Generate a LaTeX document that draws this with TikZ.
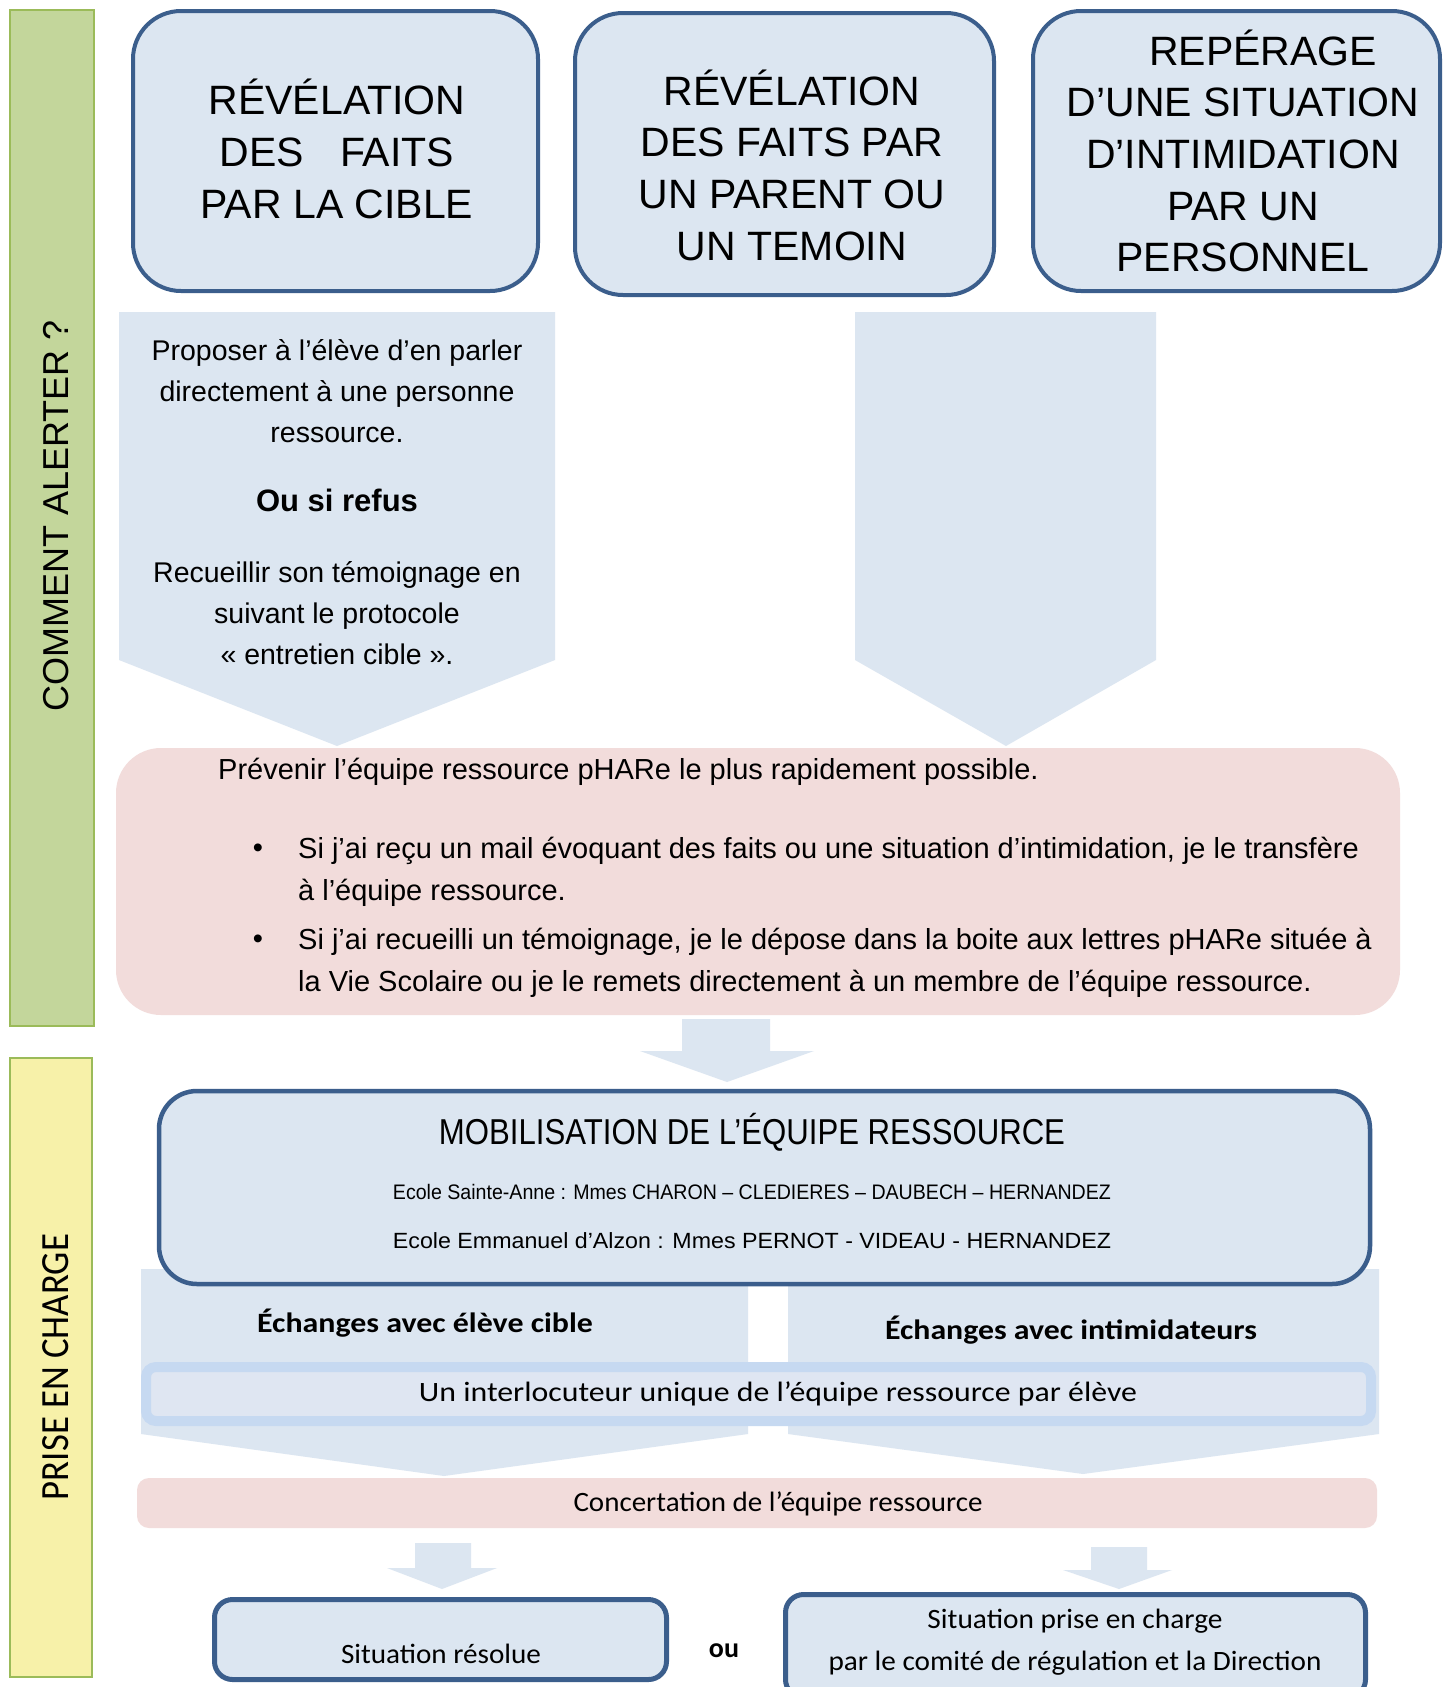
\documentclass[tikz,border=0pt]{standalone}
\usepackage{fontspec}
\usepackage{graphicx}
\setmainfont{Liberation Sans}
\newfontfamily\arial{Liberation Sans}
\newfontfamily\calib{Carlito}
\newcommand\fitw[2]{\resizebox{#1}{\height}{#2}}
\definecolor{boxfill}{HTML}{DCE6F1}
\definecolor{boxline}{HTML}{3B5E8C}
\definecolor{pinkfill}{HTML}{F2DCDB}
\definecolor{greenfill}{HTML}{C3D69B}
\definecolor{greenline}{HTML}{9BBB59}
\definecolor{yellowfill}{HTML}{F7F1A9}
\definecolor{lightline}{HTML}{C6D9F1}
\definecolor{innerfill}{HTML}{DFE6F2}
\begin{document}
\begin{tikzpicture}[x=1pt,y=-1pt,
  topbox/.style={draw=boxline, line width=4pt, fill=boxfill, rounded corners=48pt, inner sep=0pt},
  midbox/.style={draw=boxline, line width=4.5pt, fill=boxfill, rounded corners=38pt, inner sep=0pt},
  botbox/.style={draw=boxline, line width=5pt, fill=boxfill, rounded corners=18pt, inner sep=0pt},
  toptxt/.style={font=\arial\fontsize{41}{51.7}\selectfont, align=center, inner sep=0pt},
  arrtxt/.style={font=\arial\fontsize{28.5}{41}\selectfont, align=center, inner sep=0pt},
  alerttxt/.style={font=\arial\fontsize{29}{42}\selectfont, align=left, inner sep=0pt},
  caltxt/.style={font=\calib\fontsize{28}{34}\selectfont, inner sep=0pt},
  calbold/.style={font=\calib\bfseries\fontsize{28}{34}\selectfont, inner sep=0pt},
  bgarrow/.style={fill=boxfill}
]
\useasboundingbox (0,0) rectangle (1452,1687);
\fill[white] (0,0) rectangle (1452,1687);

% side bars
\node[draw=greenline, line width=2pt, fill=greenfill, minimum width=84pt, minimum height=1016pt, inner sep=0pt] (greenbar) at (52,518) {};
\node[font=\arial\fontsize{36}{40}\selectfont, rotate=90, inner sep=0pt] (alertlbl) at (56,516) {COMMENT ALERTER ?};
\node[draw=greenline, line width=2pt, fill=yellowfill, minimum width=82pt, minimum height=619pt, inner sep=0pt] (yellowbar) at (51,1367.5) {};
\node[font=\calib\fontsize{40}{44}\selectfont, rotate=90, inner sep=0pt] (priselbl) at (56,1367) {\fitw{266pt}{PRISE EN CHARGE}};

% top boxes
\node[topbox, minimum width=405pt, minimum height=280pt] (b1) at (335.5,151) {};
\node[topbox, minimum width=419pt, minimum height=282pt] (b2) at (784.5,154) {};
\node[topbox, minimum width=407pt, minimum height=280pt] (b3) at (1236.5,151) {};
\node[toptxt] (t1) at (337,149) {RÉVÉLATION\\DES\hspace{0.6em} FAITS\\PAR LA CIBLE};
\node[toptxt] (t2) at (792,165) {RÉVÉLATION\\DES FAITS PAR\\UN PARENT OU\\UN TEMOIN};
\node[toptxt] (t3) at (1243,151) {\hspace*{40pt}REPÉRAGE\\D’UNE SITUATION\\D’INTIMIDATION\\PAR UN\\PERSONNEL};

% big arrows
\fill[bgarrow] (119,312) -- (555,312) -- (555,660) -- (337,746) -- (119,660) -- cycle;
\fill[bgarrow] (855,312) -- (1156,312) -- (1156,660) -- (1006,746) -- (855,660) -- cycle;
\node[arrtxt] (p1) at (337,391) {Proposer à l’élève d’en parler\\directement à une personne\\ressource.};
\node[arrtxt, font=\arial\bfseries\fontsize{31}{41}\selectfont] (p2) at (337,500) {Ou si refus};
\node[arrtxt] (p3) at (337,613) {Recueillir son témoignage en\\suivant le protocole\\«~entretien cible~».};

% alert box
\node[fill=pinkfill, rounded corners=45pt, minimum width=1284pt, minimum height=267pt, inner sep=0pt] (alert) at (758,881.5) {};
\node[alerttxt, anchor=west] (prev) at (218,772) {Prévenir l’équipe ressource pHARe le plus rapidement possible.};
\node[alerttxt] (bul1) at (258,851) {•};
\node[alerttxt] (bul2) at (258,942) {•};
\node[alerttxt, anchor=west] (item1) at (298,872) {Si j’ai reçu un mail évoquant des faits ou une situation d’intimidation, je le transfère\\à l’équipe ressource.};
\node[alerttxt, anchor=west] (item2) at (298,963) {Si j’ai recueilli un témoignage, je le dépose dans la boite aux lettres pHARe située à\\la Vie Scolaire ou je le remets directement à un membre de l’équipe ressource.};

% arrow to mobilisation
\fill[bgarrow] (682,1019) -- (770,1019) -- (770,1051) -- (814,1051) -- (727,1082) -- (640,1051) -- (682,1051) -- cycle;

% background arrows for exchanges
\fill[bgarrow] (141,1269) -- (748,1269) -- (748,1434) -- (444,1476) -- (141,1434) -- cycle;
\fill[bgarrow] (788,1269) -- (1379,1269) -- (1379,1434) -- (1083,1474) -- (788,1434) -- cycle;

% mobilisation box
\node[midbox, minimum width=1211pt, minimum height=193pt] (mob) at (764.5,1187.5) {};
\node[font=\arial\fontsize{36}{40}\selectfont, inner sep=0pt] (mobt) at (752,1132) {\fitw{626pt}{MOBILISATION DE L’ÉQUIPE RESSOURCE}};
\node[font=\arial\fontsize{21}{24}\selectfont, inner sep=0pt] (ecole1) at (752,1192) {\fitw{718pt}{Ecole Sainte-Anne : Mmes CHARON – CLEDIERES – DAUBECH – HERNANDEZ}};
\node[font=\arial\fontsize{22}{24}\selectfont, inner sep=0pt] (ecole2) at (752,1241) {\fitw{718pt}{Ecole Emmanuel d’Alzon : Mmes PERNOT - VIDEAU - HERNANDEZ}};

\node[calbold] (ech1) at (425,1323) {\fitw{336pt}{Échanges avec élève cible}};
\node[calbold] (ech2) at (1071,1330) {\fitw{372pt}{Échanges avec intimidateurs}};

% unique interlocutor bar
\node[draw=lightline, line width=10pt, fill=innerfill, rounded corners=10pt, minimum width=1225pt, minimum height=54pt, inner sep=0pt] (uniq) at (758.5,1394) {};
\node[caltxt] (uniqt) at (778,1394) {\fitw{718pt}{Un interlocuteur unique de l’équipe ressource par élève}};

% concertation
\node[fill=pinkfill, rounded corners=12pt, minimum width=1240pt, minimum height=50pt, inner sep=0pt] (conc) at (757,1503) {};
\node[caltxt] (conct) at (778,1504) {\fitw{409pt}{Concertation de l’équipe ressource}};

% small arrows
\fill[bgarrow] (415,1543) -- (471,1543) -- (471,1568) -- (497,1568) -- (442,1589) -- (387,1568) -- (415,1568) -- cycle;
\fill[bgarrow] (1091,1547) -- (1147,1547) -- (1147,1570) -- (1172,1570) -- (1119,1589) -- (1063,1570) -- (1091,1570) -- cycle;

% outcome boxes
\node[botbox, minimum width=452pt, minimum height=80pt] (res) at (440.5,1639.5) {};
\node[caltxt] (rest) at (441,1654) {\fitw{200pt}{Situation résolue}};
\node[calbold] (ou) at (724,1651) {ou};
\node[botbox, minimum width=580pt, minimum height=103pt] (dir) at (1075.5,1646) {};
\node[caltxt] (dirt1) at (1075,1621) {\fitw{295pt}{Situation prise en charge}};
\node[caltxt] (dirt2) at (1075,1663) {\fitw{493pt}{par le comité de régulation et la Direction}};
\end{tikzpicture}
\end{document}
